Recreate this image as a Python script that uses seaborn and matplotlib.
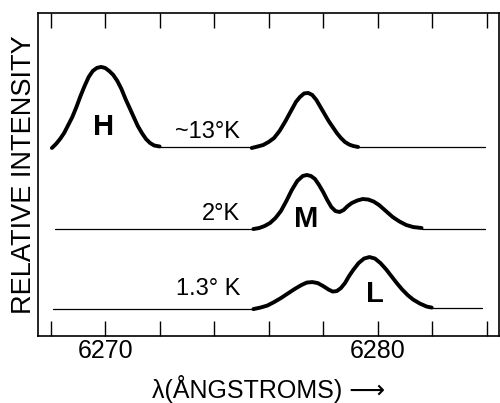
import numpy as np
import matplotlib
matplotlib.use("Agg")
import matplotlib.pyplot as plt
import seaborn as sns

# wavelengths (Angstrom) and intensities above each trace's baseline
h_wl = [6268.05, 6268.2, 6268.35, 6268.5, 6268.65, 6268.8, 6268.95, 6269.1, 6269.25,
        6269.4, 6269.55, 6269.7, 6269.85, 6270.0, 6270.15, 6270.3, 6270.45, 6270.6,
        6270.75, 6270.9, 6271.05, 6271.2, 6271.35, 6271.5, 6271.65, 6271.8, 6272.0]
h_int = [-0.1, 0.3, 0.8, 1.4, 2.2, 3.0, 4.0, 5.1, 6.1, 7.0, 7.6, 7.9, 8.0, 7.9, 7.6,
         7.2, 6.6, 5.8, 4.8, 3.9, 3.0, 2.1, 1.4, 0.8, 0.4, 0.15, 0.05]

hot_wl = [6275.38, 6275.6, 6275.8, 6276.0, 6276.2, 6276.4, 6276.6, 6276.8, 6277.0,
          6277.15, 6277.3, 6277.45, 6277.6, 6277.75, 6277.9, 6278.05, 6278.2, 6278.35,
          6278.5, 6278.65, 6278.8, 6278.95, 6279.1, 6279.28]
hot_int = [-0.1, 0.05, 0.2, 0.5, 0.9, 1.6, 2.5, 3.5, 4.5, 5.0, 5.35, 5.4, 5.2, 4.7,
           4.0, 3.3, 2.6, 2.0, 1.4, 0.9, 0.5, 0.25, 0.1, 0.0]

mid_wl = [6275.44, 6275.65, 6275.85, 6276.05, 6276.25, 6276.45, 6276.65, 6276.85,
          6277.05, 6277.25, 6277.4, 6277.55, 6277.7, 6277.85, 6278.0, 6278.15, 6278.3,
          6278.45, 6278.6, 6278.75, 6278.9, 6279.05, 6279.25, 6279.45, 6279.65,
          6279.85, 6280.05, 6280.3, 6280.55, 6280.8, 6281.05, 6281.3, 6281.61]
mid_int = [0.0, 0.1, 0.3, 0.6, 1.1, 1.8, 2.8, 3.9, 4.8, 5.3, 5.4, 5.3, 5.0, 4.4, 3.7,
           2.9, 2.2, 1.8, 1.7, 1.9, 2.3, 2.6, 2.85, 3.0, 2.95, 2.75, 2.4, 1.8, 1.2,
           0.75, 0.4, 0.2, 0.1]

low_wl = [6275.44, 6275.7, 6275.95, 6276.2, 6276.45, 6276.7, 6276.95, 6277.2, 6277.4,
          6277.6, 6277.8, 6278.0, 6278.2, 6278.35, 6278.5, 6278.65, 6278.8, 6278.95,
          6279.1, 6279.3, 6279.5, 6279.7, 6279.9, 6280.1, 6280.3, 6280.5, 6280.7,
          6280.9, 6281.1, 6281.3, 6281.55, 6281.8, 6281.98]
low_int = [0.0, 0.15, 0.35, 0.7, 1.1, 1.55, 2.0, 2.4, 2.65, 2.7, 2.6, 2.3, 1.95, 1.75,
           1.8, 2.1, 2.6, 3.3, 3.9, 4.6, 5.05, 5.2, 5.05, 4.6, 4.0, 3.3, 2.6, 1.95,
           1.4, 0.95, 0.55, 0.25, 0.15]

# flat (thin) parts of each trace: [start, end] wavelength
hot_flat = [[6272.0, 6275.38], [6279.28, 6283.93]]
mid_flat = [[6268.17, 6275.44], [6281.61, 6283.93]]
low_flat = [[6268.09, 6275.44], [6281.98, 6283.82]]

baselines = {"~13°K": 18.9, "2°K": 10.7, "1.3° K": 2.7}
temps = ["~13°K", "2°K", "1.3° K"]
peak_names = ["H", "M", "L"]

sns.set_style("ticks")
plt.rcParams["font.family"] = ["Liberation Sans", "DejaVu Sans"]
plt.rcParams.update({"text.color": "black", "axes.labelcolor": "black",
                     "xtick.color": "black", "axes.edgecolor": "black"})

fig = plt.figure(figsize=(5.0, 4.03), dpi=100)
ax = fig.add_axes([0.076, 0.166, 0.922, 0.802])

thick = dict(color="black", lw=2.8, solid_capstyle="round", solid_joinstyle="round")
thin = dict(color="black", lw=0.9)

b = baselines["~13°K"]
sns.lineplot(x=h_wl, y=np.array(h_int) + b, ax=ax, **thick)
sns.lineplot(x=hot_wl, y=np.array(hot_int) + b, ax=ax, **thick)
for seg in hot_flat:
    sns.lineplot(x=seg, y=[b, b], ax=ax, **thin)

b = baselines["2°K"]
sns.lineplot(x=mid_wl, y=np.array(mid_int) + b, ax=ax, **thick)
for seg in mid_flat:
    sns.lineplot(x=seg, y=[b, b], ax=ax, **thin)

b = baselines["1.3° K"]
sns.lineplot(x=low_wl, y=np.array(low_int) + b, ax=ax, **thick)
sns.lineplot(x=low_flat[0], y=[b, b], ax=ax, **thin)
sns.lineplot(x=low_flat[1], y=[b + 0.15, b + 0.15], ax=ax, **thin)

# temperature labels
for t, dy in zip(temps, [0.9, 0.9, 1.4]):
    ax.text(6274.95, baselines[t] + dy, t, ha="right", va="baseline", fontsize=17)

# peak labels
for name, x, y in zip(peak_names, [6269.93, 6277.36, 6279.90], [20.1, 10.93, 3.43]):
    ax.text(x, y, name, ha="center", va="baseline", fontsize=21, fontweight="bold")

ax.set_xlim(6267.54, 6284.45)
ax.set_ylim(0, 32.3)
ticks = list(range(6268, 6285, 2))
ax.set_xticks(ticks)
ax.set_xticklabels([str(v) if v in (6270, 6280) else "" for v in ticks], fontsize=18)
ax.set_yticks([])
ax.tick_params(axis="x", direction="in", length=11, width=1.0, top=True, pad=2)
for s in ax.spines.values():
    s.set_linewidth(1.2)
    s.set_visible(True)

ax.set_xlabel("λ(ÅNGSTROMS) ⟶", fontsize=18, labelpad=9)
ax.set_ylabel("RELATIVE INTENSITY", fontsize=19.5, labelpad=1)

fig.savefig("out.png", dpi=100)
